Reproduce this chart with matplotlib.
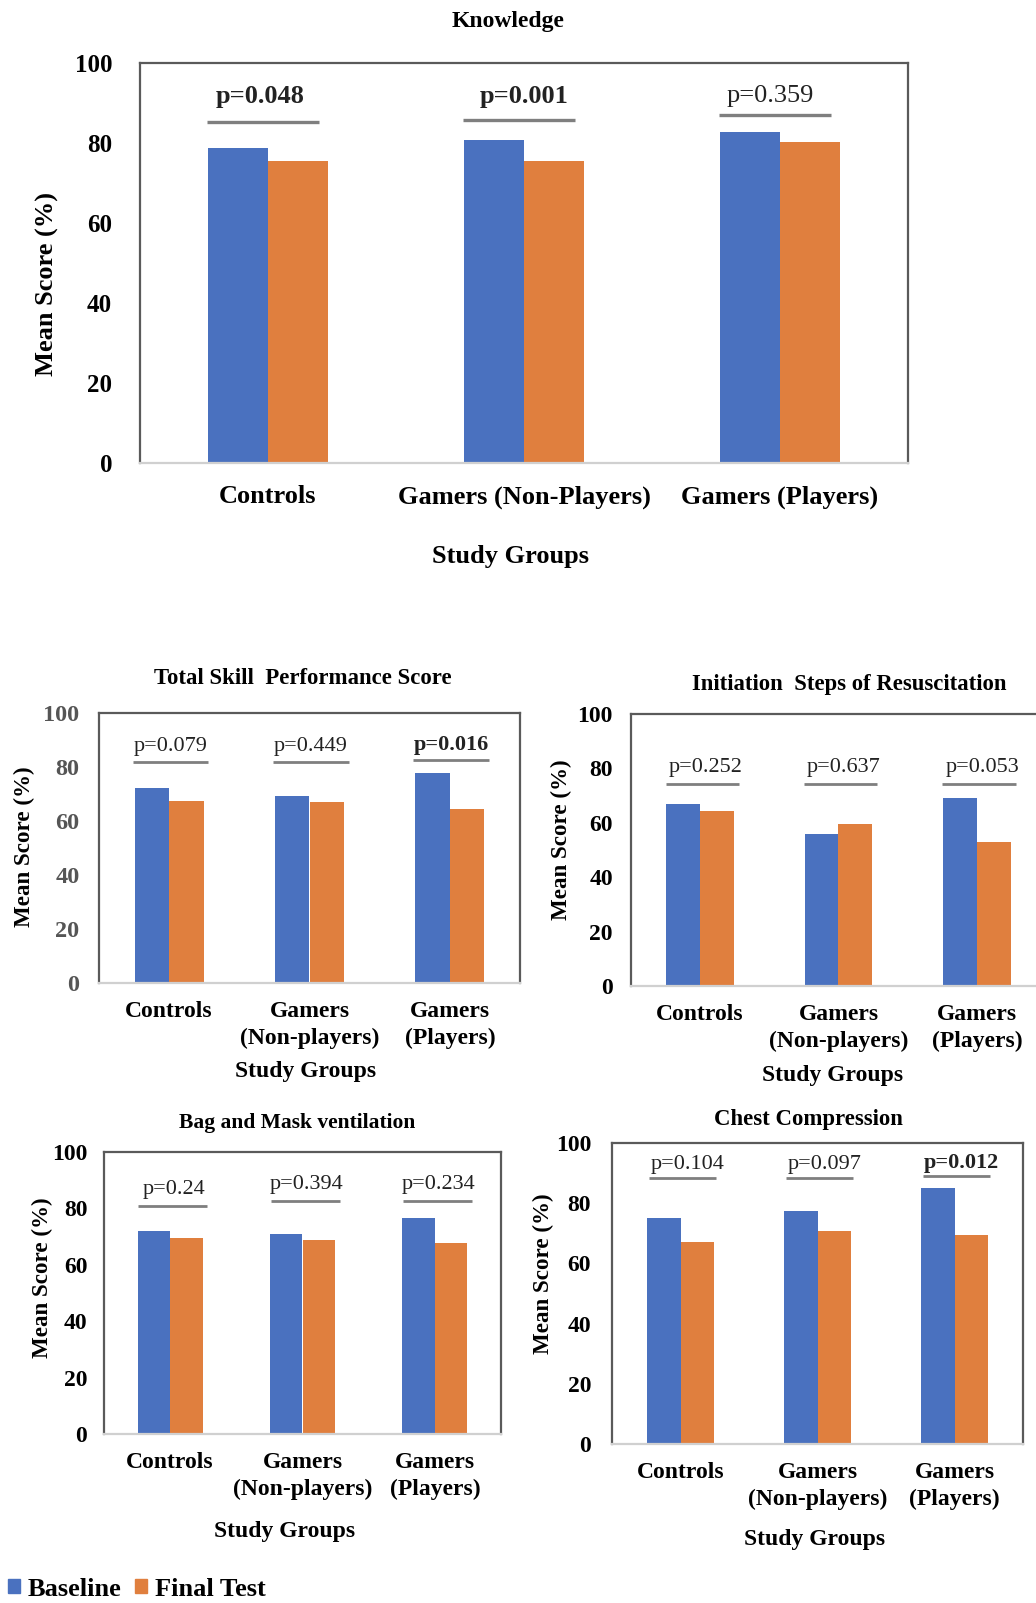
import matplotlib
matplotlib.use("Agg")
import matplotlib.pyplot as plt
from matplotlib.patches import Patch

plt.rcParams['font.family'] = ['Liberation Serif', 'DejaVu Serif']

W, H = 1036, 1603

# ---------------- data ----------------
groups_top = ['Controls', 'Gamers (Non-Players)', 'Gamers (Players)']
groups_small = ['Controls', 'Gamers\n(Non-players)', 'Gamers\n(Players)']
series_names = ['Baseline', 'Final Test']

knowledge_baseline = [78.7, 80.7, 82.8]
knowledge_final = [75.6, 75.5, 80.3]
knowledge_p = ['p=0.048', 'p=0.001', 'p=0.359']
knowledge_p_bold = [True, True, False]

skill_baseline = [72.2, 69.1, 77.8]
skill_final = [67.3, 67.0, 64.4]
skill_p = ['p=0.079', 'p=0.449', 'p=0.016']
skill_p_bold = [False, False, True]

init_baseline = [66.8, 56.0, 69.3]
init_final = [64.2, 59.4, 53.0]
init_p = ['p=0.252', 'p=0.637', 'p=0.053']
init_p_bold = [False, False, False]

bag_baseline = [72.1, 70.9, 76.6]
bag_final = [69.5, 68.8, 67.7]
bag_p = ['p=0.24', 'p=0.394', 'p=0.234']
bag_p_bold = [False, False, False]

chest_baseline = [75.2, 77.4, 85.1]
chest_final = [67.1, 70.7, 69.3]
chest_p = ['p=0.104', 'p=0.097', 'p=0.012']
chest_p_bold = [False, False, True]

BLUE = '#4A71BF'
ORANGE = '#E07F3E'

fig = plt.figure(figsize=(W / 100, H / 100), dpi=100)


def px_axes(l, t, r, b):
    return fig.add_axes([l / W, 1 - b / H, (r - l) / W, (b - t) / H])


def ftext(x, y, s, **kw):
    fig.text(x / W, 1 - y / H, s, **kw)


def panel(box, cats, base, final, pvals, pbold, layout):
    ax = px_axes(*box)
    n = len(cats)
    x = list(range(n))
    bw = layout['bw']
    ax.bar([i - bw / 2 for i in x], base, width=bw, color=BLUE, zorder=2)
    ax.bar([i + bw / 2 for i in x], final, width=bw, color=ORANGE, zorder=2)
    ax.set_xlim(-0.5, n - 0.5)
    ax.set_ylim(0, 100)
    ax.set_yticks([0, 20, 40, 60, 80, 100])
    ax.set_xticks(x)
    ax.set_xticklabels(cats, fontsize=layout['xfs'], fontweight='bold',
                       linespacing=layout.get('ls', 1.15))
    ax.set_yticklabels(['0', '20', '40', '60', '80', '100'],
                       fontsize=layout['yfs'], fontweight='bold',
                       color=layout.get('ycol', 'black'))
    ax.tick_params(axis='x', length=0, pad=layout['xpad'])
    ax.tick_params(axis='y', length=0, pad=layout['ypad'])
    for s in ['top', 'right', 'left']:
        ax.spines[s].set_color('#5a5a5a')
        ax.spines[s].set_linewidth(1.6)
    ax.spines['bottom'].set_color('#d0d0d0')
    ax.spines['bottom'].set_linewidth(1.6)
    for i in x:
        lo, hi = layout['pline_x']
        ax.plot([i + lo, i + hi], [layout['pline_y'][i]] * 2,
                color='#7f7f7f', lw=layout.get('plw', 2.0),
                solid_capstyle='butt', zorder=3)
        ax.text(i + layout['ptext_dx'][i], layout['ptext_y'][i], pvals[i],
                ha='center', va='center', fontsize=layout['pfs'],
                fontweight='bold' if pbold[i] else 'normal', color='#222222')
    return ax


# ---------------- Knowledge (top) ----------------
panel((140, 63, 908, 463), groups_top, knowledge_baseline, knowledge_final,
      knowledge_p, knowledge_p_bold,
      dict(bw=0.236, xfs=19, yfs=18, xpad=16, ypad=20, pfs=19, plw=2.4,
           pline_x=(-0.24, 0.2), pline_y=[85.2, 85.7, 87.0],
           ptext_y=[91.6, 91.6, 91.8], ptext_dx=[-0.03, 0.0, -0.04]))
ftext(508, 21, 'Knowledge', ha='center', va='center', fontsize=17, fontweight='bold')
ftext(511, 556, 'Study Groups', ha='center', va='center', fontsize=19, fontweight='bold')
ftext(47, 284, 'Mean Score (%)', ha='center', va='center', rotation=90,
      fontsize=19, fontweight='bold')

small = dict(bw=0.245, xfs=17, yfs=17, xpad=13, pfs=16, ls=1.38,
             pline_x=(-0.26, 0.28))

# ---------------- Total Skill ----------------
lay = dict(small, ypad=14, yfs=17.5, pline_y=[82.0, 82.0, 82.6],
           ptext_y=[87.6, 87.6, 88.0], ptext_dx=[0.01, 0.01, 0.01], ycol='#555555')
panel((99, 713, 520, 983), groups_small, skill_baseline, skill_final,
      skill_p, skill_p_bold, lay)
ftext(303, 679, 'Total Skill  Performance Score', ha='center', va='center',
      fontsize=16.4, fontweight='bold')
ftext(306, 1071, 'Study Groups', ha='center', va='center', fontsize=17, fontweight='bold')
ftext(24, 847, 'Mean Score (%)', ha='center', va='center', rotation=90,
      fontsize=16.6, fontweight='bold')

# ---------------- Initiation Steps ----------------
lay = dict(small, ypad=13, pline_y=[74.2, 74.2, 74.2], ptext_y=[80.3, 80.3, 80.3],
           ptext_dx=[0.04, 0.04, 0.04], pline_x=(-0.25, 0.28))
panel((631, 714, 1046, 986), groups_small, init_baseline, init_final,
      init_p, init_p_bold, lay)
ftext(849, 684, 'Initiation  Steps of Resuscitation', ha='center', va='center',
      fontsize=16.4, fontweight='bold')
ftext(833, 1076, 'Study Groups', ha='center', va='center', fontsize=17, fontweight='bold')
ftext(561, 840, 'Mean Score (%)', ha='center', va='center', rotation=90,
      fontsize=16.6, fontweight='bold')

# ---------------- Bag and Mask ----------------
lay = dict(small, ypad=12, pline_y=[80.8, 82.6, 82.6], ptext_y=[86.8, 88.6, 88.6],
           ptext_dx=[0.03, 0.03, 0.03], pline_x=(-0.24, 0.28))
panel((104, 1152, 501, 1434), groups_small, bag_baseline, bag_final,
      bag_p, bag_p_bold, lay)
ftext(297, 1123, 'Bag and Mask ventilation', ha='center', va='center',
      fontsize=15.5, fontweight='bold')
ftext(285, 1532, 'Study Groups', ha='center', va='center', fontsize=17, fontweight='bold')
ftext(42, 1278, 'Mean Score (%)', ha='center', va='center', rotation=90,
      fontsize=16.6, fontweight='bold')

# ---------------- Chest Compression ----------------
lay = dict(small, ypad=15, pline_y=[88.4, 88.4, 88.9], ptext_y=[93.0, 93.0, 93.4],
           ptext_dx=[0.05, 0.05, 0.05], pline_x=(-0.23, 0.26))
panel((612, 1143, 1023, 1444), groups_small, chest_baseline, chest_final,
      chest_p, chest_p_bold, lay)
ftext(808, 1120, 'Chest Compression', ha='center', va='center',
      fontsize=16.4, fontweight='bold')
ftext(815, 1540, 'Study Groups', ha='center', va='center', fontsize=17, fontweight='bold')
ftext(543, 1274, 'Mean Score (%)', ha='center', va='center', rotation=90,
      fontsize=16.6, fontweight='bold')

# ---------------- Legend ----------------
handles = [Patch(color=BLUE), Patch(color=ORANGE)]
fig.legend(handles, series_names, loc='center left',
           bbox_to_anchor=(8 / W, 1 - 1589 / H), ncol=2, frameon=False,
           handlelength=0.45, handleheight=0.45, handletextpad=0.3,
           columnspacing=0.5, borderaxespad=0, borderpad=0,
           prop=dict(family='Liberation Serif', weight='bold', size=19))

fig.savefig('out.png', dpi=100)
